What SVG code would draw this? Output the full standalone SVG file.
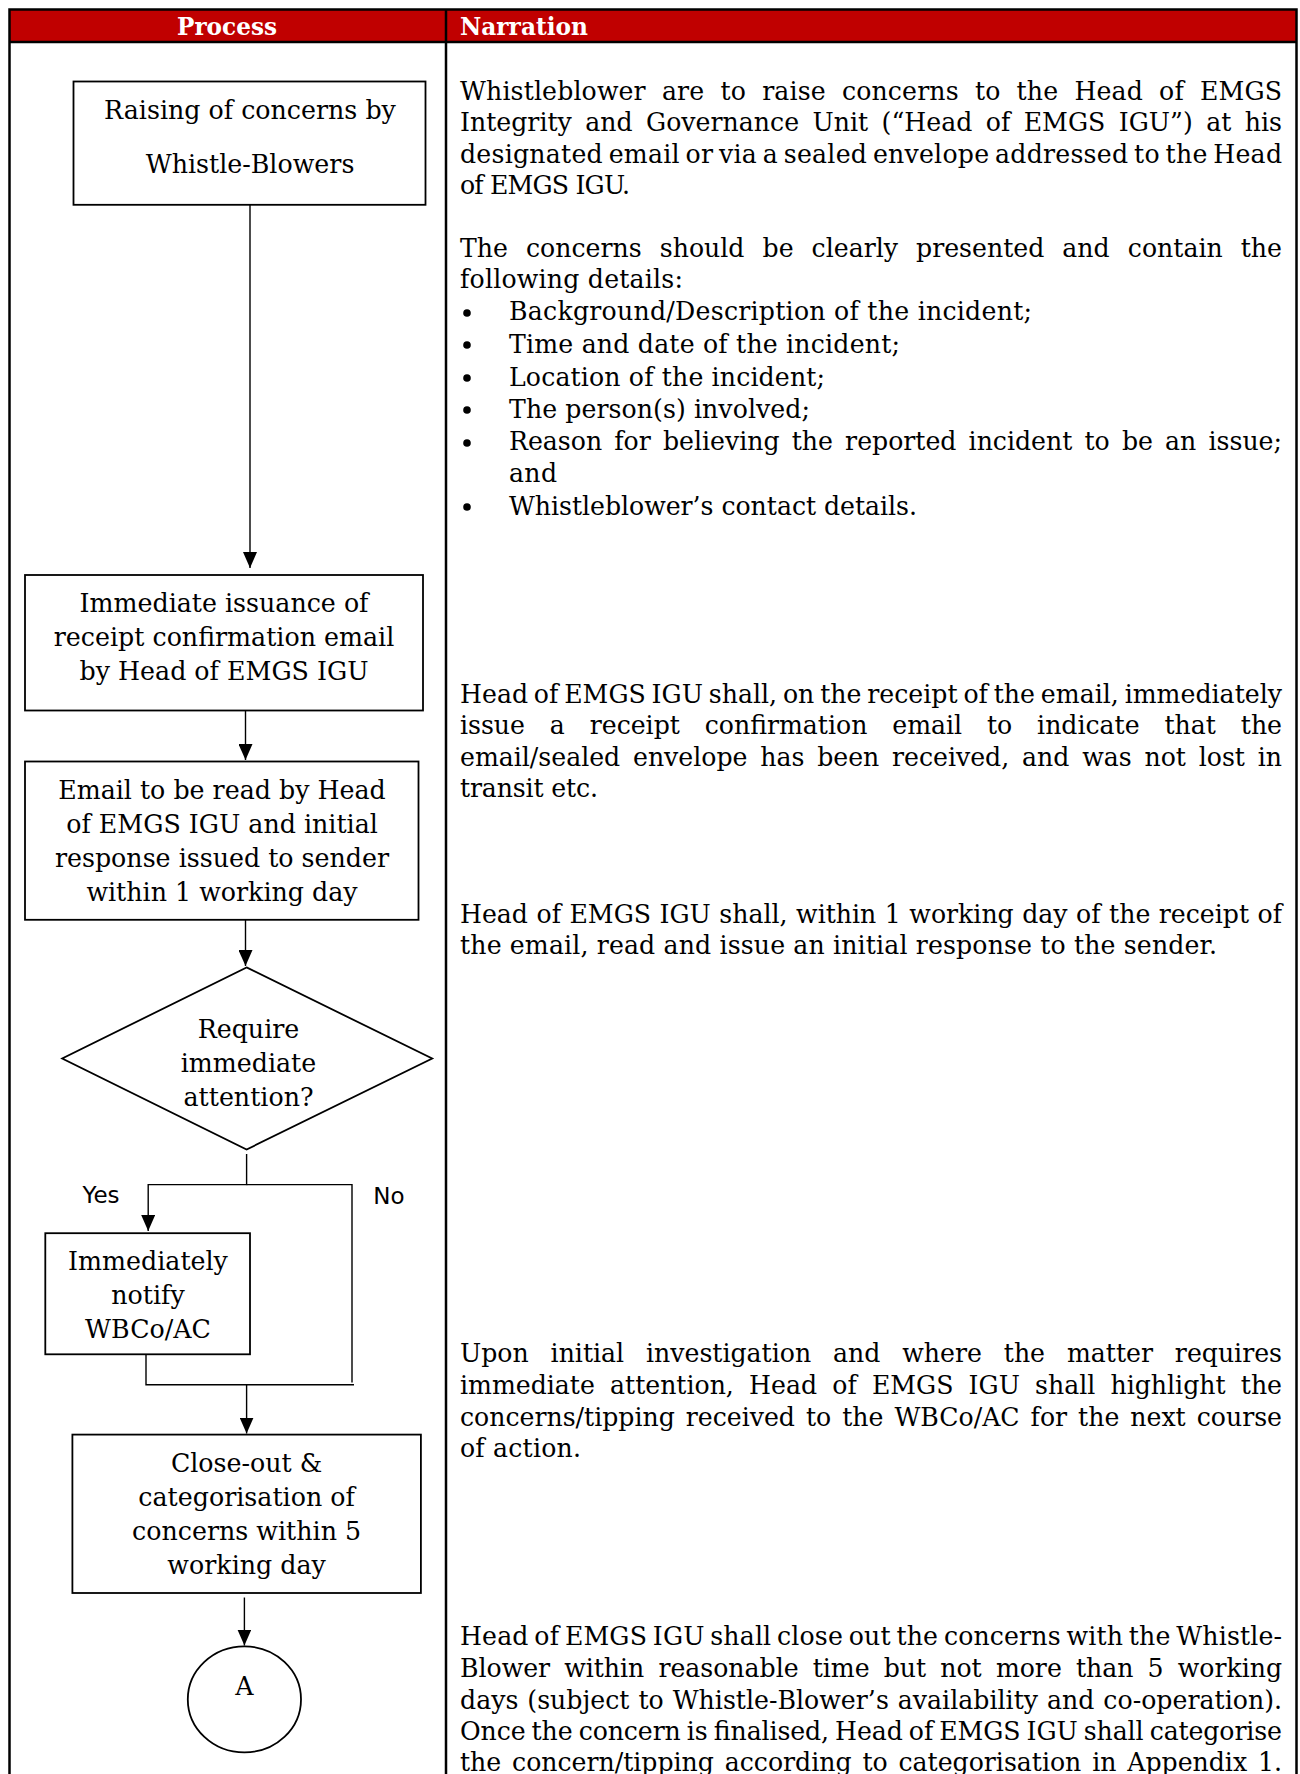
<svg xmlns="http://www.w3.org/2000/svg" width="1300" height="1774" viewBox="0 0 1300 1774">
<style>
.frame{fill:none;stroke:#000;stroke-width:2.5}
.node{fill:#fff;stroke:#000;stroke-width:1.8}
.conn{fill:none;stroke:#000;stroke-width:1.4}
.hdr{font-family:"DejaVu Serif",serif;font-weight:bold;font-size:24px;fill:#fff}
.bt{font-family:"DejaVu Serif",serif;font-size:25.3px;fill:#000;text-anchor:middle}
.lbl{font-family:"DejaVu Sans",sans-serif;font-size:23px;fill:#000;text-anchor:middle}
.nar{font-family:"DejaVu Serif",serif;font-size:25.2px;fill:#000}
</style>
<defs>
<marker id="ah" viewBox="0 0 16 14" refX="16" refY="7" markerWidth="16" markerHeight="14" markerUnits="userSpaceOnUse" orient="auto">
<path d="M0,0 L16,7 L0,14 z" fill="#000"/>
</marker>
</defs>
<rect x="0" y="0" width="1300" height="1774" fill="#fff"/>
<g id="table">
<rect x="9" y="9" width="1288" height="33" fill="#c00000"/>
<path class="frame" d="M9.5,1780 V9.5 H1296.5 V1780 M9.5,42 H1296.5 M446,9.5 V1780"/>
<text class="hdr" x="227" y="34.5" text-anchor="middle" textLength="100" lengthAdjust="spacingAndGlyphs">Process</text>
<text class="hdr" x="460" y="34.5" textLength="128" lengthAdjust="spacingAndGlyphs">Narration</text>
</g>
<g id="connectors">
<line class="conn" x1="250" y1="205" x2="250" y2="568" marker-end="url(#ah)"/>
<line class="conn" x1="245.5" y1="711" x2="245.5" y2="760" marker-end="url(#ah)"/>
<line class="conn" x1="245.5" y1="920" x2="245.5" y2="966" marker-end="url(#ah)"/>
<path class="conn" d="M246.6,1154 V1184.6 H148.2 V1231" marker-end="url(#ah)"/>
<path class="conn" d="M246.6,1184.6 H352 V1382.6"/>
<path class="conn" d="M146,1354.5 V1384.8 H354"/>
<line class="conn" x1="246.6" y1="1384.8" x2="246.6" y2="1433.5" marker-end="url(#ah)"/>
<line class="conn" x1="244.4" y1="1597.5" x2="244.4" y2="1645.5" marker-end="url(#ah)"/>
<text class="lbl" x="101" y="1203">Yes</text>
<text class="lbl" x="389" y="1204">No</text>
</g>
<g id="n1">
<rect class="node" x="73.5" y="81.5" width="352" height="123.3"/>
<text class="bt" x="250" y="118.5">Raising of concerns by</text>
<text class="bt" x="250" y="172.5">Whistle-Blowers</text>
</g>
<g id="n2">
<rect class="node" x="25" y="575" width="398" height="135.5"/>
<text class="bt" x="224" y="612">Immediate issuance of</text>
<text class="bt" x="224" y="646">receipt confirmation email</text>
<text class="bt" x="224" y="680">by Head of EMGS IGU</text>
</g>
<g id="n3">
<rect class="node" x="25" y="761.5" width="393.5" height="158.3"/>
<text class="bt" x="222" y="798.5">Email to be read by Head</text>
<text class="bt" x="222" y="832.5">of EMGS IGU and initial</text>
<text class="bt" x="222" y="866.5">response issued to sender</text>
<text class="bt" x="222" y="900.5">within 1 working day</text>
</g>
<g id="n4">
<polygon class="node" points="246.6,967.4 432.2,1058.5 246.6,1149.5 62.2,1058.5"/>
<text class="bt" x="248.5" y="1037.5">Require</text>
<text class="bt" x="248.5" y="1071.5">immediate</text>
<text class="bt" x="248.5" y="1105.5">attention?</text>
</g>
<g id="n5">
<rect class="node" x="45.3" y="1233.2" width="204.7" height="121.1"/>
<text class="bt" x="148" y="1269.5">Immediately</text>
<text class="bt" x="148" y="1303.5">notify</text>
<text class="bt" x="148" y="1337.5">WBCo/AC</text>
</g>
<g id="n6">
<rect class="node" x="72.4" y="1434.6" width="348.5" height="158.4"/>
<text class="bt" x="246.6" y="1471.5">Close-out &amp;</text>
<text class="bt" x="246.6" y="1505.5">categorisation of</text>
<text class="bt" x="246.6" y="1539.5">concerns within 5</text>
<text class="bt" x="246.6" y="1573.5">working day</text>
</g>
<g id="n7">
<ellipse class="node" cx="244.4" cy="1699.4" rx="56.6" ry="53"/>
<text class="bt" x="244.4" y="1694.5">A</text>
</g>
<g id="narration">
<text class="nar" x="460" y="99.5" word-spacing="8.0" textLength="822" lengthAdjust="spacing">Whistleblower are to raise concerns to the Head of EMGS</text>
<text class="nar" x="460" y="131" word-spacing="5.4" textLength="822" lengthAdjust="spacing">Integrity and Governance Unit (“Head of EMGS IGU”) at his</text>
<text class="nar" x="460" y="163" word-spacing="-2.5" textLength="822" lengthAdjust="spacing">designated email or via a sealed envelope addressed to the Head</text>
<text class="nar" x="460" y="193.5" textLength="170" lengthAdjust="spacing">of EMGS IGU.</text>
<text class="nar" x="460" y="257" word-spacing="10.1" textLength="822" lengthAdjust="spacing">The concerns should be clearly presented and contain the</text>
<text class="nar" x="460" y="287.5" textLength="223" lengthAdjust="spacing">following details:</text>
<g fill="#000">
<circle cx="467" cy="313" r="3.8"/>
<circle cx="467" cy="345" r="3.8"/>
<circle cx="467" cy="378" r="3.8"/>
<circle cx="467" cy="410" r="3.8"/>
<circle cx="467" cy="443" r="3.8"/>
<circle cx="467" cy="507" r="3.8"/>
</g>
<text class="nar" x="509" y="320" textLength="523" lengthAdjust="spacing">Background/Description of the incident;</text>
<text class="nar" x="509" y="353" textLength="391" lengthAdjust="spacing">Time and date of the incident;</text>
<text class="nar" x="509" y="386" textLength="316" lengthAdjust="spacing">Location of the incident;</text>
<text class="nar" x="509" y="417.5" textLength="301" lengthAdjust="spacing">The person(s) involved;</text>
<text class="nar" x="509" y="450" word-spacing="4.2" textLength="773" lengthAdjust="spacing">Reason for believing the reported incident to be an issue;</text>
<text class="nar" x="509" y="482" textLength="48" lengthAdjust="spacing">and</text>
<text class="nar" x="509" y="515" textLength="408" lengthAdjust="spacing">Whistleblower’s contact details.</text>
<text class="nar" x="460" y="702.5" word-spacing="-2.2" textLength="822" lengthAdjust="spacing">Head of EMGS IGU shall, on the receipt of the email, immediately</text>
<text class="nar" x="460" y="734" word-spacing="16.9" textLength="822" lengthAdjust="spacing">issue a receipt confirmation email to indicate that the</text>
<text class="nar" x="460" y="766" word-spacing="4.8" textLength="822" lengthAdjust="spacing">email/sealed envelope has been received, and was not lost in</text>
<text class="nar" x="460" y="796.5" textLength="138" lengthAdjust="spacing">transit etc.</text>
<text class="nar" x="460" y="923" word-spacing="0.5" textLength="822" lengthAdjust="spacing">Head of EMGS IGU shall, within 1 working day of the receipt of</text>
<text class="nar" x="460" y="954" textLength="757" lengthAdjust="spacing">the email, read and issue an initial response to the sender.</text>
<text class="nar" x="460" y="1362" word-spacing="13.9" textLength="822" lengthAdjust="spacing">Upon initial investigation and where the matter requires</text>
<text class="nar" x="460" y="1394" word-spacing="7.2" textLength="822" lengthAdjust="spacing">immediate attention, Head of EMGS IGU shall highlight the</text>
<text class="nar" x="460" y="1425.5" word-spacing="3.0" textLength="822" lengthAdjust="spacing">concerns/tipping received to the WBCo/AC for the next course</text>
<text class="nar" x="460" y="1457" textLength="121" lengthAdjust="spacing">of action.</text>
<text class="nar" x="460" y="1645" word-spacing="-2.4" textLength="822" lengthAdjust="spacing">Head of EMGS IGU shall close out the concerns with the Whistle-</text>
<text class="nar" x="460" y="1677" word-spacing="6.2" textLength="822" lengthAdjust="spacing">Blower within reasonable time but not more than 5 working</text>
<text class="nar" x="460" y="1708.5" word-spacing="0.9" textLength="822" lengthAdjust="spacing">days (subject to Whistle-Blower’s availability and co-operation).</text>
<text class="nar" x="460" y="1740" word-spacing="-1.7" textLength="822" lengthAdjust="spacing">Once the concern is finalised, Head of EMGS IGU shall categorise</text>
<text class="nar" x="460" y="1771" word-spacing="2.9" textLength="822" lengthAdjust="spacing">the concern/tipping according to categorisation in Appendix 1.</text>
</g>
</svg>
